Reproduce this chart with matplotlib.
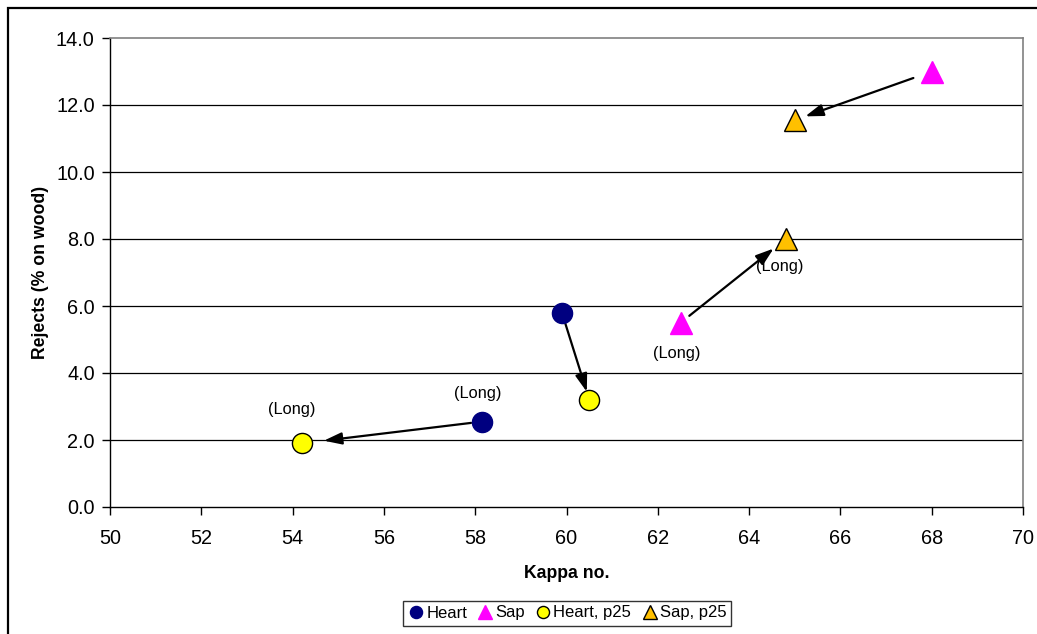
import matplotlib
matplotlib.use("Agg")
import matplotlib.pyplot as plt
from matplotlib.patches import Rectangle

plt.rcParams['font.family'] = ['Liberation Sans', 'DejaVu Sans']

# Data
heart_x = [59.9, 58.15]
heart_y = [5.8, 2.55]
sap_x = [62.5, 68.0]
sap_y = [5.5, 13.0]
heart_p25_x = [60.5, 54.2]
heart_p25_y = [3.2, 1.9]
sap_p25_x = [64.8, 65.0]
sap_p25_y = [8.0, 11.55]

long_label = "(Long)"
xticks = list(range(50, 71, 2))
yticks = [0, 2, 4, 6, 8, 10, 12, 14]

W, H = 1037, 634
fig = plt.figure(figsize=(W / 100, H / 100), dpi=100)
ax = fig.add_axes([110 / W, (H - 507) / H, 913 / W, 469 / H])

# outer frame
fig.add_artist(Rectangle((8 / W, -0.2), 1.2, (H - 8) / H + 0.2, transform=fig.transFigure,
                         fill=False, edgecolor='black', linewidth=1.6, clip_on=False))

ax.set_xlim(50, 70)
ax.set_ylim(0, 14)
ax.set_xticks(xticks)
ax.set_yticks(yticks)
ax.set_xticklabels([str(v) for v in xticks], fontsize=14.3)
ax.set_yticklabels([f"{v:.1f}" for v in yticks], fontsize=14.3)
ax.tick_params(direction='out', length=6, width=1, color='black')
ax.tick_params(axis='x', pad=10)
ax.tick_params(axis='y', pad=5)

for y in yticks[1:-1]:
    ax.axhline(y, color='black', linewidth=0.9, zorder=1)
for s in ['top', 'right']:
    ax.spines[s].set_color('#808080')
    ax.spines[s].set_linewidth(1.2)
for s in ['left', 'bottom']:
    ax.spines[s].set_color('black')
    ax.spines[s].set_linewidth(1.0)

ax.set_xlabel("Kappa no.", fontsize=12.7, fontweight='bold', labelpad=12)
ax.set_ylabel("Rejects (% on wood)", fontsize=12.7, fontweight='bold', labelpad=5)

# arrows
arrow_kw = dict(arrowstyle='-|>,head_length=0.6,head_width=0.2', color='black', lw=1.6,
                mutation_scale=18)
for (x0, y0, x1, y1, sa, sb) in [
    (sap_x[1], sap_y[1], sap_p25_x[1], sap_p25_y[1], 14, 8),
    (sap_x[0], sap_y[0], sap_p25_x[0], sap_p25_y[0], 8, 11),
    (heart_x[0], heart_y[0], heart_p25_x[0], heart_p25_y[0], 6, 6),
    (heart_x[1], heart_y[1], heart_p25_x[1], heart_p25_y[1], 8, 16),
]:
    ax.annotate("", xy=(x1, y1), xytext=(x0, y0),
                arrowprops=dict(shrinkA=sa, shrinkB=sb, **arrow_kw), zorder=3)

ms_c = 14.5
ms_t = 16
ax.plot(heart_x, heart_y, 'o', color='#000080', markersize=ms_c, markeredgecolor='#000080',
        linestyle='none', label='Heart', zorder=4)
ax.plot(sap_x, sap_y, '^', color='#FF00FF', markersize=ms_t, markeredgecolor='#FF00FF',
        linestyle='none', label='Sap', zorder=4)
ax.plot(heart_p25_x, heart_p25_y, 'o', color='#FFFF00', markersize=ms_c, markeredgecolor='black',
        markeredgewidth=1.0, linestyle='none', label='Heart, p25', zorder=4)
ax.plot(sap_p25_x, sap_p25_y, '^', color='#FFC000', markersize=ms_t, markeredgecolor='black',
        markeredgewidth=1.0, linestyle='none', label='Sap, p25', zorder=4)

# labels "(Long)"
for (x, y, dx, dy) in [
    (heart_p25_x[1], heart_p25_y[1], -10, 34),
    (heart_x[1], heart_y[1], -4, 28),
    (sap_x[0], sap_y[0], -4, -31),
    (sap_p25_x[0], sap_p25_y[0], -6, -27),
]:
    ax.annotate(long_label, xy=(x, y), xytext=(dx * 0.72, dy * 0.72), textcoords='offset points',
                ha='center', va='center', fontsize=11.8, zorder=5)

leg = fig.legend(loc='center', bbox_to_anchor=(567 / W, (H - 613) / H), ncol=4,
                 fontsize=12.0, frameon=True, fancybox=False, edgecolor='black',
                 handletextpad=0.1, columnspacing=0.6, handlelength=1.0,
                 borderpad=0.3, markerscale=0.6, borderaxespad=0)
leg.get_frame().set_linewidth(1.0)

fig.savefig("out.png", dpi=100)
